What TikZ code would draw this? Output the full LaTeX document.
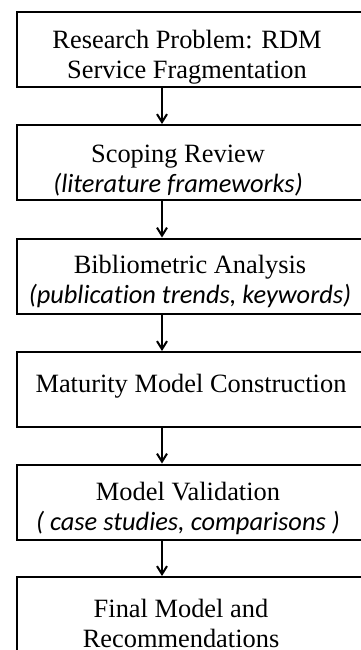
\documentclass[tikz,border=0pt]{standalone}
\usepackage{fontspec}
\setmainfont{Liberation Serif}
\newfontfamily\notefont[Ligatures=NoCommon]{Carlito}
\usepackage{tikz}
\usetikzlibrary{arrows.meta}

\tikzset{
  stage/.style={draw, line width=1pt, minimum width=173pt, minimum height=37.5pt, inner sep=0pt},
  stagetext/.style={align=center, inner sep=0pt, font=\fontsize{13.2}{15}\selectfont},
  flow/.style={line width=1pt, -{Straight Barb[length=4pt,width=5pt]}}
}
\newcommand{\note}[1]{{\notefont\itshape #1}}

\begin{document}
\begin{tikzpicture}[x=0.5pt, y=-0.5pt]
      \useasboundingbox (0,0) rectangle (360,650);
      \node[stage] (b1) at (190,49) {};
      \node[stage] (b2) at (190,162.5) {};
      \node[stage] (b3) at (190,276) {};
      \node[stage] (b4) at (190,389.5) {};
      \node[stage] (b5) at (190,502) {};
      \node[stage] (b6) at (190,614.5) {};
      \node[stagetext] (t1) at (187,57) {Research Problem: RDM\\Service Fragmentation};
      \node[stagetext] (t2) at (178,171) {Scoping Review\\\note{(literature frameworks)}};
      \node[stagetext] (t3) at (190,281.5) {Bibliometric Analysis\\\note{(publication trends, keywords)}};
      \node[stagetext] (t4) at (191,386.5) {Maturity Model Construction};
      \node[stagetext] (t5) at (188,508) {Model Validation\\\note{( case studies, comparisons )}};
      \node[stagetext] (t6) at (181,623) {Final Model and\\Recommendations};
      \coordinate (ax) at (162,0);
      \draw [flow] (b1.south -| ax) -- (b2.north -| ax);
      \draw [flow] (b2.south -| ax) -- (b3.north -| ax);
      \draw [flow] (b3.south -| ax) -- (b4.north -| ax);
      \draw [flow] (b4.south -| ax) -- (b5.north -| ax);
      \draw [flow] (b5.south -| ax) -- (b6.north -| ax);
    \end{tikzpicture}
\end{document}
